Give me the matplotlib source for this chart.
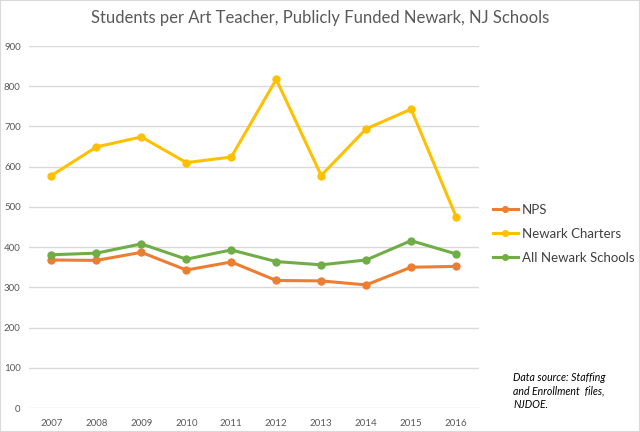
import matplotlib
matplotlib.use("Agg")
import matplotlib.pyplot as plt
from matplotlib.patches import Rectangle

years = ["2007", "2008", "2009", "2010", "2011", "2012", "2013", "2014", "2015", "2016"]
nps = [368, 367, 387, 343, 363, 317, 316, 306, 350, 352]
charters = [578, 649, 674, 610, 624, 817, 578, 694, 743, 476]
all_newark = [381, 385, 408, 370, 393, 364, 356, 368, 416, 383]
yticks = [0, 100, 200, 300, 400, 500, 600, 700, 800, 900]

plt.rcParams['font.family'] = ['Lato', 'DejaVu Sans']

fig = plt.figure(figsize=(6.4, 4.32), dpi=100)
ax = fig.add_axes([29/640, 1 - 408/432, (478.5 - 29) / 640, (408 - 46) / 432])

x = list(range(len(years)))
c_nps = '#ED7D31'
c_ch = '#FFC000'
c_all = '#70AD47'
ax.plot(x, nps, color=c_nps, lw=2.2, marker='o', ms=5, label='NPS', zorder=3)
ax.plot(x, charters, color=c_ch, lw=2.2, marker='o', ms=5, label='Newark Charters', zorder=3)
ax.plot(x, all_newark, color=c_all, lw=2.2, marker='o', ms=5, label='All Newark Schools', zorder=3)

ax.set_xlim(-0.5, len(years) - 0.5)
ax.set_ylim(0, 900)
ax.set_yticks(yticks)
ax.set_yticklabels([str(v) for v in yticks])
ax.set_xticks(x)
ax.set_xticklabels(years)
ax.grid(axis='y', color='#d9d9d9', lw=1)
ax.set_axisbelow(True)
for s in ax.spines.values():
    s.set_visible(False)
ax.tick_params(length=0, labelsize=7, colors='#595959')
ax.tick_params(axis='y', pad=6)
ax.tick_params(axis='x', pad=8)

fig.text(0.5, 1 - 18 / 432, 'Students per Art Teacher, Publicly Funded Newark, NJ Schools',
         ha='center', va='center', fontsize=12, color='#595959')

leg = fig.legend(loc='upper left', bbox_to_anchor=(481 / 640, 1 - 192 / 432), frameon=False,
                 fontsize=9.5, labelcolor='#404040', handlelength=1.9, handletextpad=0.3,
                 labelspacing=0.9, markerscale=0.8)

fig.text(513 / 640, 1 - 391 / 432, 'Data source: Staffing\nand Enrollment  files,\nNJDOE.',
         ha='left', va='center', fontsize=7.6, style='italic', color='#000000', linespacing=1.25)

fig.patches.append(Rectangle((0, 0), 1, 1, transform=fig.transFigure, fill=False,
                             edgecolor='#d9d9d9', lw=1.5))

fig.savefig('out.png', dpi=100)
